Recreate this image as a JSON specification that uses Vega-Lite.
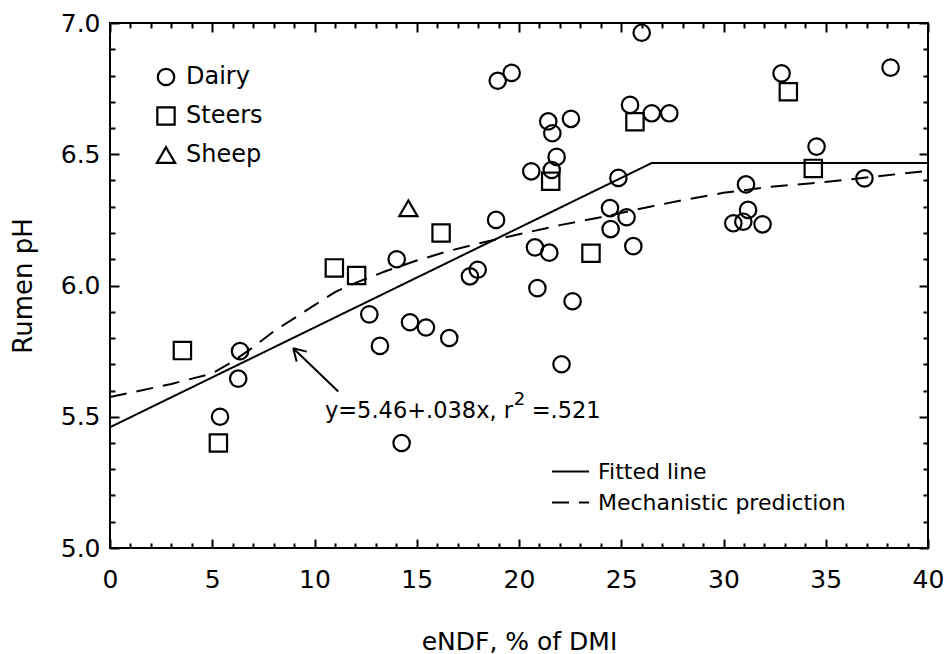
{
  "$schema": "https://vega.github.io/schema/vega-lite/v6.json",
  "width": 818,
  "height": 525,
  "autosize": {"type": "none"},
  "padding": {"left": 110, "top": 23, "right": 23, "bottom": 106},
  "background": "white",
  "config": {
    "font": "DejaVu Sans",
    "view": {"stroke": "black", "strokeWidth": 2},
    "axis": {
      "grid": false, "domain": false,
      "labelFont": "DejaVu Sans", "labelFontSize": 25, "labelColor": "black",
      "titleFont": "DejaVu Sans", "titleFontWeight": "normal", "titleColor": "black",
      "tickColor": "black", "tickWidth": 2, "labelOverlap": false, "labelFlush": false
    }
  },
  "datasets": {
    "points": [
      {"species": "Dairy", "endf": 5.38, "ph": 5.50},
      {"species": "Dairy", "endf": 6.36, "ph": 5.75},
      {"species": "Dairy", "endf": 6.27, "ph": 5.645},
      {"species": "Dairy", "endf": 14.26, "ph": 5.40},
      {"species": "Dairy", "endf": 12.68, "ph": 5.89},
      {"species": "Dairy", "endf": 13.2, "ph": 5.77},
      {"species": "Dairy", "endf": 14.67, "ph": 5.86},
      {"species": "Dairy", "endf": 15.45, "ph": 5.84},
      {"species": "Dairy", "endf": 16.59, "ph": 5.80},
      {"species": "Dairy", "endf": 14.02, "ph": 6.10},
      {"species": "Dairy", "endf": 17.6, "ph": 6.035},
      {"species": "Dairy", "endf": 17.98, "ph": 6.06},
      {"species": "Dairy", "endf": 18.88, "ph": 6.25},
      {"species": "Dairy", "endf": 18.96, "ph": 6.78},
      {"species": "Dairy", "endf": 19.64, "ph": 6.81},
      {"species": "Dairy", "endf": 20.6, "ph": 6.435},
      {"species": "Dairy", "endf": 21.6, "ph": 6.44},
      {"species": "Dairy", "endf": 21.43, "ph": 6.625},
      {"species": "Dairy", "endf": 21.63, "ph": 6.58},
      {"species": "Dairy", "endf": 22.54, "ph": 6.635},
      {"species": "Dairy", "endf": 21.84, "ph": 6.49},
      {"species": "Dairy", "endf": 20.78, "ph": 6.145},
      {"species": "Dairy", "endf": 21.48, "ph": 6.125},
      {"species": "Dairy", "endf": 20.9, "ph": 5.99},
      {"species": "Dairy", "endf": 22.62, "ph": 5.94},
      {"species": "Dairy", "endf": 22.08, "ph": 5.70},
      {"species": "Dairy", "endf": 24.86, "ph": 6.41},
      {"species": "Dairy", "endf": 24.45, "ph": 6.295},
      {"species": "Dairy", "endf": 25.26, "ph": 6.26},
      {"species": "Dairy", "endf": 24.48, "ph": 6.215},
      {"species": "Dairy", "endf": 25.59, "ph": 6.15},
      {"species": "Dairy", "endf": 26.0, "ph": 6.963},
      {"species": "Dairy", "endf": 25.43, "ph": 6.688},
      {"species": "Dairy", "endf": 26.49, "ph": 6.656},
      {"species": "Dairy", "endf": 27.35, "ph": 6.656},
      {"species": "Dairy", "endf": 30.48, "ph": 6.237},
      {"species": "Dairy", "endf": 30.97, "ph": 6.243},
      {"species": "Dairy", "endf": 31.2, "ph": 6.288},
      {"species": "Dairy", "endf": 31.91, "ph": 6.233},
      {"species": "Dairy", "endf": 31.1, "ph": 6.385},
      {"species": "Dairy", "endf": 32.84, "ph": 6.808},
      {"species": "Dairy", "endf": 34.55, "ph": 6.529},
      {"species": "Dairy", "endf": 36.89, "ph": 6.408},
      {"species": "Dairy", "endf": 38.17, "ph": 6.83},
      {"species": "Steers", "endf": 3.54, "ph": 5.752},
      {"species": "Steers", "endf": 5.30, "ph": 5.40},
      {"species": "Steers", "endf": 10.97, "ph": 6.067},
      {"species": "Steers", "endf": 12.06, "ph": 6.038},
      {"species": "Steers", "endf": 16.19, "ph": 6.20},
      {"species": "Steers", "endf": 21.55, "ph": 6.397},
      {"species": "Steers", "endf": 23.52, "ph": 6.123},
      {"species": "Steers", "endf": 25.67, "ph": 6.624},
      {"species": "Steers", "endf": 33.17, "ph": 6.738},
      {"species": "Steers", "endf": 34.39, "ph": 6.446},
      {"species": "Sheep", "endf": 14.59, "ph": 6.294}
    ],
    "lines": [
      {"series": "Fitted line", "endf": 0, "ph": 5.46},
      {"series": "Fitted line", "endf": 26.5, "ph": 6.467},
      {"series": "Fitted line", "endf": 40, "ph": 6.467},
      {"series": "Mechanistic prediction", "endf": 0, "ph": 5.575},
      {"series": "Mechanistic prediction", "endf": 3, "ph": 5.625},
      {"series": "Mechanistic prediction", "endf": 5, "ph": 5.665},
      {"series": "Mechanistic prediction", "endf": 6, "ph": 5.71},
      {"series": "Mechanistic prediction", "endf": 7, "ph": 5.765},
      {"series": "Mechanistic prediction", "endf": 8, "ph": 5.825},
      {"series": "Mechanistic prediction", "endf": 9, "ph": 5.875},
      {"series": "Mechanistic prediction", "endf": 10, "ph": 5.925},
      {"series": "Mechanistic prediction", "endf": 11, "ph": 5.975},
      {"series": "Mechanistic prediction", "endf": 12, "ph": 6.01},
      {"series": "Mechanistic prediction", "endf": 13.5, "ph": 6.055},
      {"series": "Mechanistic prediction", "endf": 15, "ph": 6.095},
      {"series": "Mechanistic prediction", "endf": 16.5, "ph": 6.13},
      {"series": "Mechanistic prediction", "endf": 18, "ph": 6.16},
      {"series": "Mechanistic prediction", "endf": 20, "ph": 6.195},
      {"series": "Mechanistic prediction", "endf": 22, "ph": 6.23},
      {"series": "Mechanistic prediction", "endf": 24, "ph": 6.26},
      {"series": "Mechanistic prediction", "endf": 26.4, "ph": 6.30},
      {"series": "Mechanistic prediction", "endf": 28, "ph": 6.325},
      {"series": "Mechanistic prediction", "endf": 30, "ph": 6.353},
      {"series": "Mechanistic prediction", "endf": 32.3, "ph": 6.376},
      {"series": "Mechanistic prediction", "endf": 35.2, "ph": 6.396},
      {"series": "Mechanistic prediction", "endf": 38, "ph": 6.42},
      {"series": "Mechanistic prediction", "endf": 40, "ph": 6.437}
    ],
    "arrow": [
      {"x": 11.16, "y": 5.596, "x2": 8.96, "y2": 5.761},
      {"x": 8.96, "y": 5.761, "x2": 9.13, "y2": 5.71},
      {"x": 8.96, "y": 5.761, "x2": 9.62, "y2": 5.748}
    ],
    "note": [
      {"part": "main", "x": 10.51, "y": 5.495, "text": "y=5.46+.038x, r"},
      {"part": "sup", "x": 19.74, "y": 5.545, "text": "2"},
      {"part": "main", "x": 20.62, "y": 5.495, "text": "=.521"}
    ]
  },
  "resolve": {"axis": {"x": "independent", "y": "independent"}},
  "layer": [
    {
      "data": {"name": "lines"},
      "mark": {"type": "line", "color": "black", "strokeWidth": 2},
      "encoding": {
        "x": {"field": "endf", "type": "quantitative",
          "scale": {"domain": [0, 40], "nice": false, "zero": false},
          "axis": {"orient": "top", "labels": false, "title": null,
            "values": [0,1,2,3,4,5,6,7,8,9,10,11,12,13,14,15,16,17,18,19,20,21,22,23,24,25,26,27,28,29,30,31,32,33,34,35,36,37,38,39,40],
            "tickSize": {"condition": {"test": "datum.value % 5 === 0", "value": -9}, "value": -5}}},
        "y": {"field": "ph", "type": "quantitative",
          "scale": {"domain": [5, 7], "nice": false, "zero": false},
          "axis": {"orient": "right", "labels": false, "title": null,
            "values": [5,5.1,5.2,5.3,5.4,5.5,5.6,5.7,5.8,5.9,6,6.1,6.2,6.3,6.4,6.5,6.6,6.7,6.8,6.9,7],
            "tickSize": {"condition": {"test": "abs(datum.value*2 - round(datum.value*2)) < 0.001", "value": -9}, "value": -5}}},
        "strokeDash": {"field": "series", "type": "nominal",
          "scale": {"domain": ["Fitted line", "Mechanistic prediction"], "range": [[1, 0], [17, 10]]},
          "legend": {"orient": "none", "legendX": 441, "legendY": 429, "title": null,
            "symbolType": "stroke", "symbolSize": 1369, "symbolStrokeWidth": 2, "symbolStrokeColor": "black",
            "labelFont": "DejaVu Sans", "labelFontSize": 22, "labelColor": "black", "labelLimit": 500,
            "rowPadding": -4, "labelOffset": 8, "padding": 0}}
      }
    },
    {
      "data": {"name": "points"},
      "mark": {"type": "point", "filled": false, "color": "black", "strokeWidth": 2.2, "opacity": 1},
      "encoding": {
        "x": {"field": "endf", "type": "quantitative",
          "scale": {"domain": [0, 40], "nice": false, "zero": false},
          "axis": {"orient": "bottom", "title": "eNDF, % of DMI", "titleFontSize": 25, "titlePadding": 33,
            "values": [0,1,2,3,4,5,6,7,8,9,10,11,12,13,14,15,16,17,18,19,20,21,22,23,24,25,26,27,28,29,30,31,32,33,34,35,36,37,38,39,40],
            "labelExpr": "datum.value % 5 === 0 ? datum.label : ''",
            "labelPadding": 28,
            "tickSize": {"condition": {"test": "datum.value % 5 === 0", "value": -9}, "value": -5}}},
        "y": {"field": "ph", "type": "quantitative",
          "scale": {"domain": [5, 7], "nice": false, "zero": false},
          "axis": {"orient": "left", "title": "Rumen pH", "titleFontSize": 26, "titlePadding": 24,
            "values": [5,5.1,5.2,5.3,5.4,5.5,5.6,5.7,5.8,5.9,6,6.1,6.2,6.3,6.4,6.5,6.6,6.7,6.8,6.9,7],
            "format": ".1f",
            "labelExpr": "abs(datum.value*2 - round(datum.value*2)) < 0.001 ? datum.label : ''",
            "labelPadding": 19,
            "tickSize": {"condition": {"test": "abs(datum.value*2 - round(datum.value*2)) < 0.001", "value": -9}, "value": -5}}},
        "shape": {"field": "species", "type": "nominal",
          "scale": {"domain": ["Dairy", "Steers", "Sheep"], "range": ["circle", "square", "triangle-up"]},
          "legend": {"orient": "none", "legendX": 44, "legendY": 42, "title": null,
            "symbolStrokeColor": "black", "symbolFillColor": "transparent", "symbolStrokeWidth": 2.2,
            "labelFont": "DejaVu Sans", "labelFontSize": 24, "labelColor": "black",
            "rowPadding": 12, "labelOffset": 8, "padding": 0}},
        "size": {"field": "species", "type": "nominal",
          "scale": {"domain": ["Dairy", "Steers", "Sheep"], "range": [270, 330, 260]},
          "legend": {"orient": "none", "legendX": 44, "legendY": 42, "title": null,
            "symbolStrokeColor": "black", "symbolFillColor": "transparent", "symbolStrokeWidth": 2.2,
            "labelFont": "DejaVu Sans", "labelFontSize": 24, "labelColor": "black",
            "rowPadding": 12, "labelOffset": 8, "padding": 0}}
      }
    },
    {
      "data": {"name": "arrow"},
      "mark": {"type": "rule", "color": "black", "strokeWidth": 2},
      "encoding": {
        "x": {"field": "x", "type": "quantitative", "axis": null},
        "y": {"field": "y", "type": "quantitative", "axis": null},
        "x2": {"field": "x2"},
        "y2": {"field": "y2"}
      }
    },
    {
      "data": {"name": "note"},
      "transform": [{"filter": "datum.part === 'main'"}],
      "mark": {"type": "text", "align": "left", "baseline": "alphabetic", "fontSize": 22.5, "font": "DejaVu Sans", "color": "black"},
      "encoding": {
        "x": {"field": "x", "type": "quantitative", "axis": null},
        "y": {"field": "y", "type": "quantitative", "axis": null},
        "text": {"field": "text"}
      }
    },
    {
      "data": {"name": "note"},
      "transform": [{"filter": "datum.part === 'sup'"}],
      "mark": {"type": "text", "align": "left", "baseline": "alphabetic", "fontSize": 18, "font": "DejaVu Sans", "color": "black"},
      "encoding": {
        "x": {"field": "x", "type": "quantitative", "axis": null},
        "y": {"field": "y", "type": "quantitative", "axis": null},
        "text": {"field": "text"}
      }
    }
  ]
}
